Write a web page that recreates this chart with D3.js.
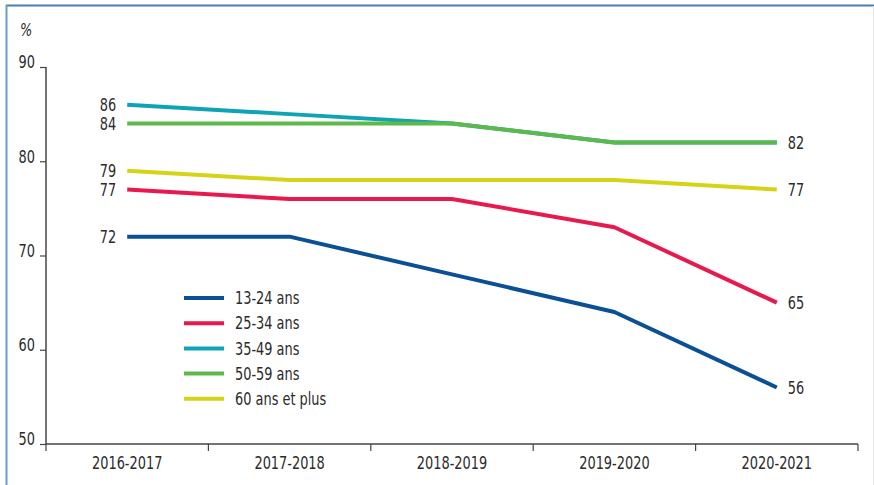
<!DOCTYPE html>
<html><head><meta charset="utf-8">
<script src="https://cdn.jsdelivr.net/npm/d3@7"></script>
<style>
html,body{margin:0;padding:0;background:#fff;}
text{font-family:"DejaVu Sans Condensed","DejaVu Sans",sans-serif;fill:#2b2b2b;}
</style></head>
<body><svg id="c" width="874" height="485"></svg>
<script>
const categories = ["2016-2017","2017-2018","2018-2019","2019-2020","2020-2021"];
const seriesNames = ["13-24 ans","25-34 ans","35-49 ans","50-59 ans","60 ans et plus"];
const v1324 = [72,72,68,64,56];
const v2534 = [77,76,76,73,65];
const v3549 = [86,85,84,82,82];
const v5059 = [84,84,84,82,82];
const v60 = [79,78,78,78,77];
const yTicks = [50,60,70,80,90];
const colors = ["#0b4f94","#e8194d","#0ea3b5","#5cb94a","#d5d317"];
const seriesValues = [v1324,v2534,v3549,v5059,v60];
const startLabels = [true,true,true,true,true];
const endLabels = [true,true,false,true,true];

const svg = d3.select("#c");
svg.append("line").attr("x1",6).attr("x2",874).attr("y1",5.5).attr("y2",5.5).attr("stroke","#4a7db5").attr("stroke-width",2);
svg.append("line").attr("x1",6.5).attr("x2",6.5).attr("y1",5).attr("y2",485).attr("stroke","#6c9ccc").attr("stroke-width",2);
svg.append("line").attr("x1",873.5).attr("x2",873.5).attr("y1",6).attr("y2",485).attr("stroke","#e6e6e6").attr("stroke-width",1);

const x = d3.scaleBand().domain(categories).range([46,858]);
const y = d3.scaleLinear().domain([50,90]).range([444,67]);
const xc = c => x(c) + x.bandwidth()/2;

const ya = svg.append("g").attr("transform","translate(46,0)")
  .call(d3.axisLeft(y).tickValues(yTicks).tickSize(6).tickPadding(5));
ya.select(".domain").attr("stroke","#444").attr("stroke-width",1.5).attr("d","M0,67V444");
ya.selectAll(".tick line").attr("stroke","#444").attr("stroke-width",1.2);
ya.selectAll(".tick text").attr("font-size",17.5).attr("dy","0.05em").style("fill","#2b2b2b");

const xa = svg.append("g").attr("transform","translate(0,444)")
  .call(d3.axisBottom(x).tickSize(0).tickPadding(13));
xa.select(".domain").attr("stroke","#444").attr("stroke-width",1.5).attr("d","M46,0H858");
xa.selectAll(".tick text").attr("font-size",17.5).style("fill","#2b2b2b");
const edges = categories.map(c=>x(c)).concat([x(categories[categories.length-1])+x.bandwidth()]);
xa.selectAll("line.edge").data(edges).enter().append("line").attr("class","edge")
  .attr("x1",d=>d).attr("x2",d=>d).attr("y1",0).attr("y2",7).attr("stroke","#444").attr("stroke-width",1.2);

svg.append("text").attr("x",20).attr("y",36).attr("font-size",17.5).attr("font-style","italic").text("%");

const line = d3.line().x((d,i)=>xc(categories[i])).y(d=>y(d));
const order = [0,1,4,2,3];
order.forEach(s=>{
  svg.append("path").datum(seriesValues[s]).attr("d",line).attr("fill","none")
    .attr("stroke",colors[s]).attr("stroke-width",4).attr("stroke-linejoin","round");
});

seriesValues.forEach((vals,s)=>{
  if(startLabels[s]) svg.append("text").attr("x",xc(categories[0])-11).attr("y",y(vals[0])).attr("dy","0.35em")
    .attr("text-anchor","end").attr("font-size",17.5).text(vals[0]);
  if(endLabels[s]) svg.append("text").attr("x",xc(categories[4])+11).attr("y",y(vals[4])).attr("dy","0.35em")
    .attr("text-anchor","start").attr("font-size",17.5).text(vals[4]);
});

const lg = svg.append("g").attr("transform","translate(184,298)");
seriesNames.forEach((n,i)=>{
  const g = lg.append("g").attr("transform",`translate(0,${i*25.2})`);
  g.append("line").attr("x1",0).attr("x2",40).attr("stroke",colors[i]).attr("stroke-width",4);
  g.append("text").attr("x",51).attr("dy","0.35em").attr("font-size",17.5).text(n);
});

// condense all text to mimic a narrow typeface
svg.selectAll("text").each(function(){
  const w = this.getComputedTextLength();
  d3.select(this).attr("textLength", (w*0.82).toFixed(1)).attr("lengthAdjust","spacingAndGlyphs");
});
</script></body></html>
